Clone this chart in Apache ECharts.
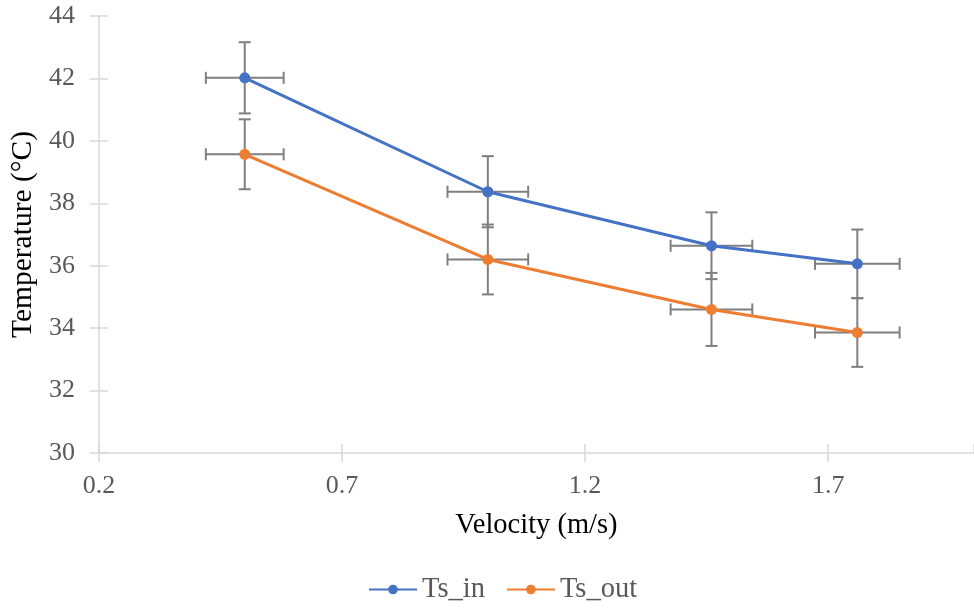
<!DOCTYPE html>
<html>
<head>
<meta charset="utf-8">
<script src="https://cdn.jsdelivr.net/npm/echarts@6/dist/echarts.min.js"></script>
<style>
  html, body { margin: 0; padding: 0; background: #fff; }
  #chart { width: 974px; height: 612px; }
</style>
</head>
<body>
<div id="chart"></div>
<script>
// Measured surface temperatures against flow velocity
const velocity = [0.5, 1.0, 1.46, 1.76];
const tsIn = [42.02, 38.37, 36.64, 36.06];
const tsOut = [39.57, 36.20, 34.60, 33.86];
// Uncertainties (± half-widths)
const velErr = [0.080, 0.083, 0.084, 0.087];
const tsInErr = [1.14, 1.14, 1.07, 1.10];
const tsOutErr = [1.12, 1.12, 1.17, 1.10];

const BLUE = '#4472C4';
const ORANGE = '#ED7D31';
const GREY = '#7F7F7F';
const FONT = '"Liberation Serif", "Times New Roman", serif';

const pairs = (ys) => velocity.map((v, i) => [v, ys[i]]);
const errRows = (ys, yErr) => velocity.map((v, i) => [v, ys[i], velErr[i], yErr[i]]);

// Crosshair error bars: vertical and horizontal whiskers with caps
function renderErr(params, api) {
  const x = api.value(0), y = api.value(1), dx = api.value(2), dy = api.value(3);
  const c = api.coord([x, y]);
  const top = api.coord([x, y + dy]);
  const bot = api.coord([x, y - dy]);
  const lft = api.coord([x - dx, y]);
  const rgt = api.coord([x + dx, y]);
  const cap = 6;
  const style = { stroke: GREY, lineWidth: 2, fill: null };
  const line = (x1, y1, x2, y2) => ({ type: 'line', shape: { x1, y1, x2, y2 }, style });
  return {
    type: 'group',
    children: [
      line(c[0], top[1], c[0], bot[1]),
      line(c[0] - cap, top[1], c[0] + cap, top[1]),
      line(c[0] - cap, bot[1], c[0] + cap, bot[1]),
      line(lft[0], c[1], rgt[0], c[1]),
      line(lft[0], c[1] - cap, lft[0], c[1] + cap),
      line(rgt[0], c[1] - cap, rgt[0], c[1] + cap)
    ]
  };
}

const axisLine = { lineStyle: { color: '#D9D9D9', width: 1.5 } };
const tickLine = { lineStyle: { color: '#D9D9D9', width: 1.5 } };

const chart = echarts.init(document.getElementById('chart'));
chart.setOption({
  animation: false,
  textStyle: { fontFamily: FONT },
  grid: { left: 98, top: 16, bottom: 159, right: -7, containLabel: false },
  xAxis: [{
    type: 'value', min: 0.2, max: 2.0, interval: 0.5,
    name: 'Velocity (m/s)', nameLocation: 'middle', nameGap: 58,
    nameTextStyle: { fontSize: 28.5, color: '#000', fontFamily: FONT },
    axisLine: axisLine,
    axisTick: Object.assign({ show: true, length: 9 }, tickLine),
    axisLabel: { fontSize: 26, color: '#595959', margin: 20, fontFamily: FONT,
                 formatter: (v) => v.toFixed(1), showMaxLabel: false },
    splitLine: { show: false }
  }, {
    type: 'value', min: 0.2, max: 2.0, interval: 0.5, position: 'bottom',
    axisLine: { show: false },
    axisTick: Object.assign({ show: true, inside: true, length: 9 }, tickLine),
    axisLabel: { show: false }, splitLine: { show: false }
  }],
  yAxis: [{
    type: 'value', min: 30, max: 44, interval: 2,
    name: 'Temperature (°C)', nameLocation: 'middle', nameGap: 60,
    nameTextStyle: { fontSize: 29.5, color: '#000', fontFamily: FONT },
    axisLine: Object.assign({ show: true }, axisLine),
    axisTick: Object.assign({ show: true, length: 9 }, tickLine),
    axisLabel: { fontSize: 26, color: '#595959', margin: 24, fontFamily: FONT },
    splitLine: { show: false }
  }, {
    type: 'value', min: 30, max: 44, interval: 2, position: 'left',
    axisLine: { show: false },
    axisTick: Object.assign({ show: true, inside: true, length: 9 }, tickLine),
    axisLabel: { show: false }, splitLine: { show: false }
  }],
  legend: {
    bottom: 3, left: 363,
    itemWidth: 48, itemHeight: 12, itemGap: 21,
    textStyle: { fontSize: 28.5, color: '#595959', fontFamily: FONT },
    data: ['Ts_in', 'Ts_out']
  },
  series: [
    { type: 'custom', name: 'err_in', renderItem: renderErr, data: errRows(tsIn, tsInErr), z: 1, silent: true },
    { type: 'custom', name: 'err_out', renderItem: renderErr, data: errRows(tsOut, tsOutErr), z: 1, silent: true },
    {
      type: 'line', name: 'Ts_in', data: pairs(tsIn), z: 3,
      symbol: 'circle', symbolSize: 11,
      lineStyle: { color: BLUE, width: 3 }, itemStyle: { color: BLUE }
    },
    {
      type: 'line', name: 'Ts_out', data: pairs(tsOut), z: 3,
      symbol: 'circle', symbolSize: 11,
      lineStyle: { color: ORANGE, width: 3 }, itemStyle: { color: ORANGE }
    }
  ]
});
</script>
</body>
</html>
